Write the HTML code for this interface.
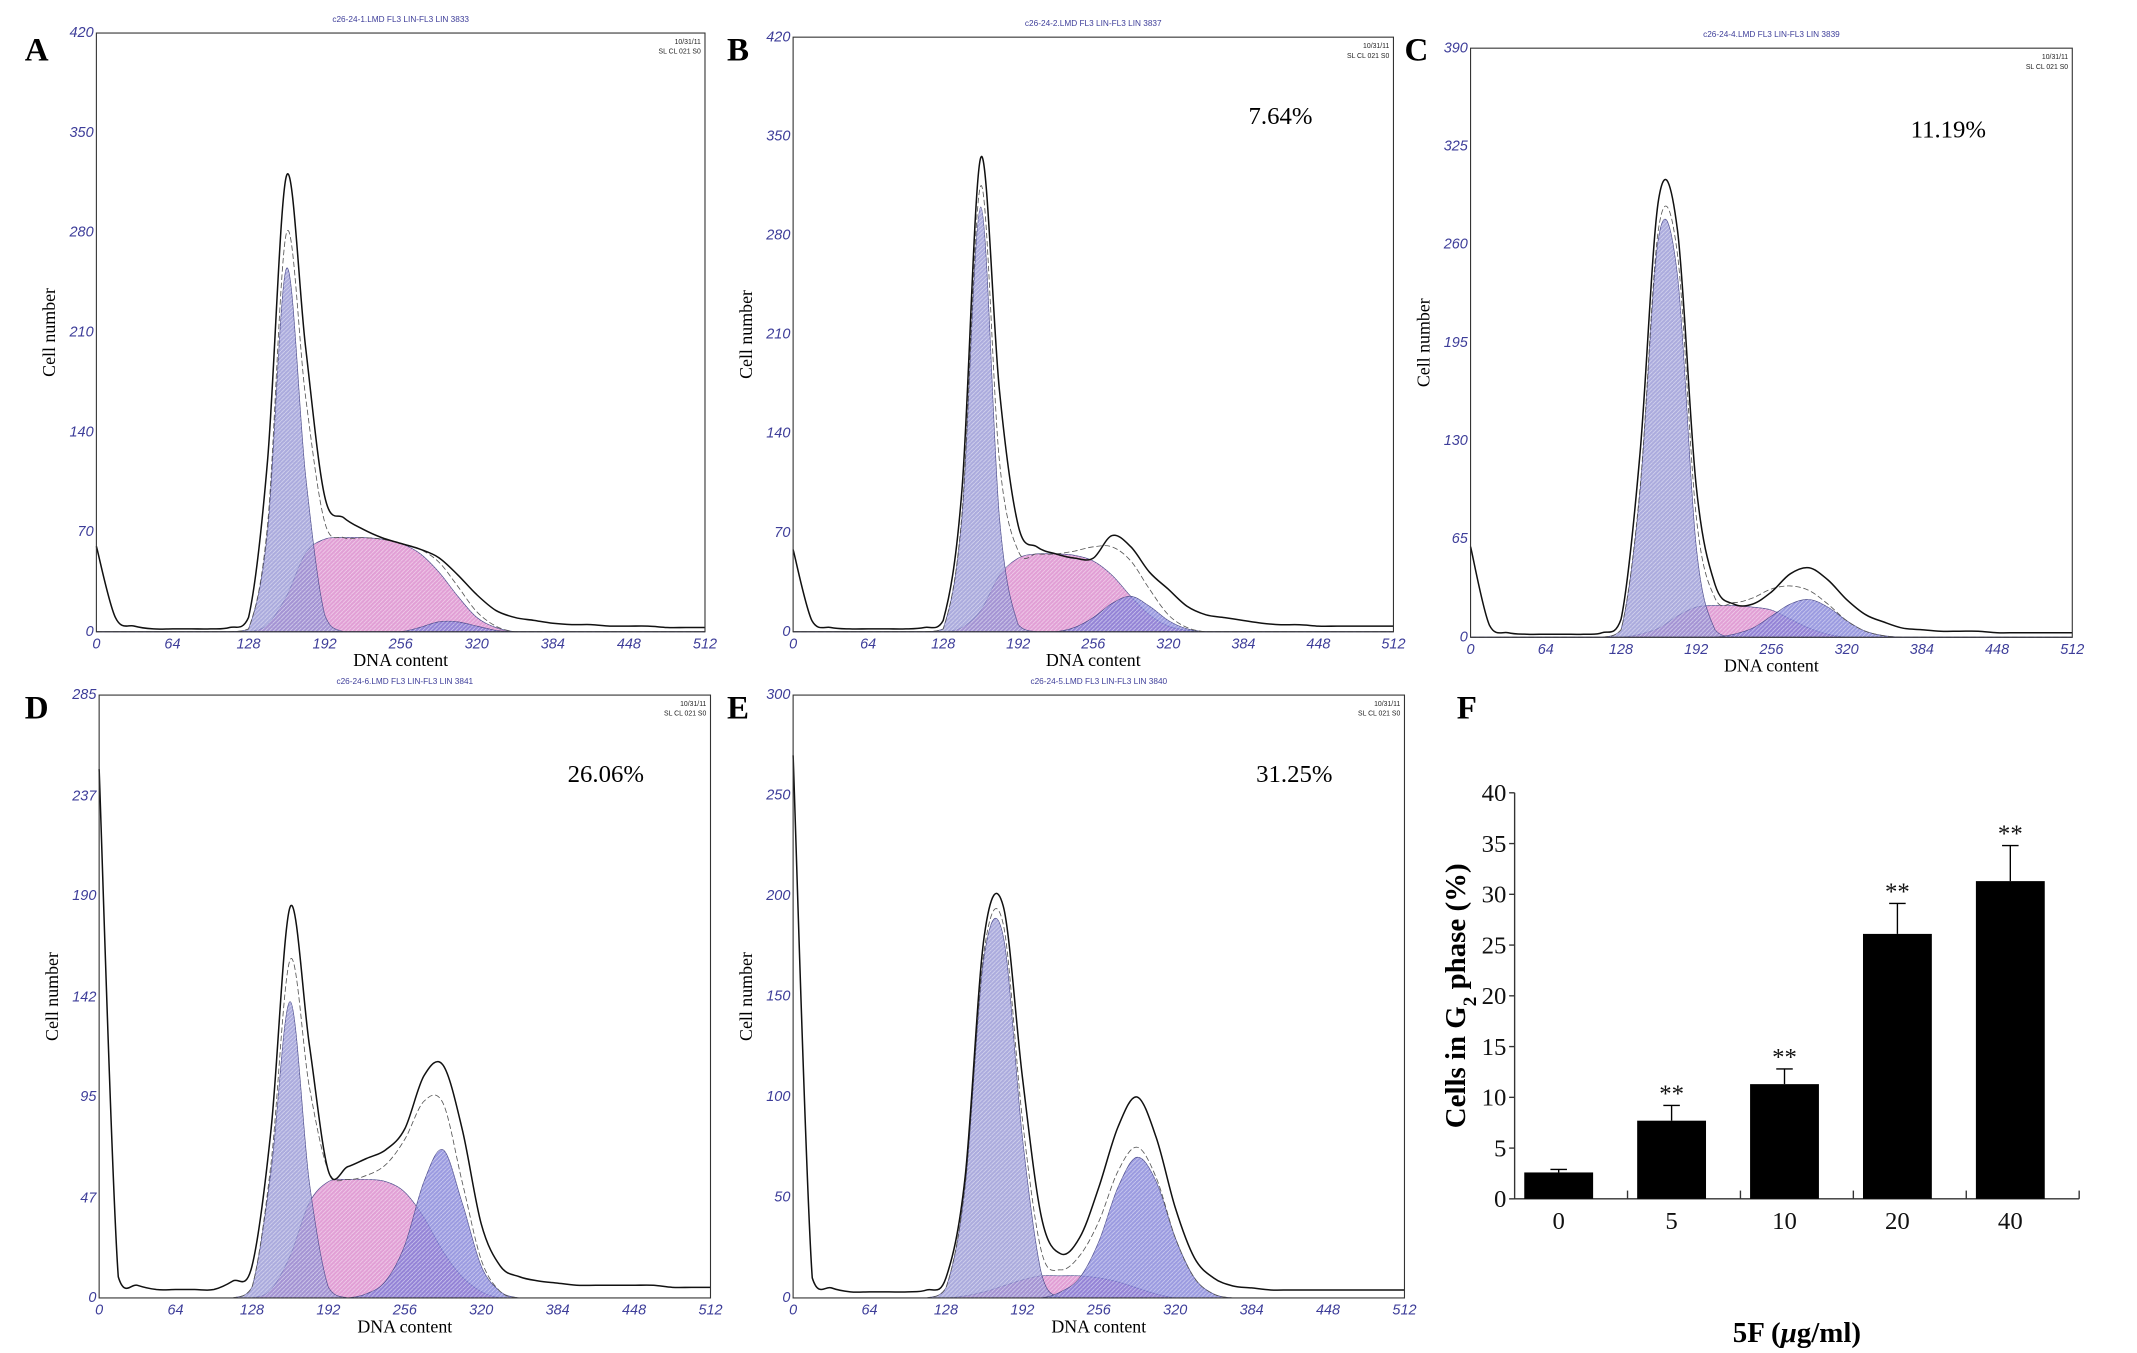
<!DOCTYPE html>
<html><head><meta charset="utf-8"><style>
html,body{margin:0;padding:0;background:#fff}
svg{display:block}
.pl{font-family:"Liberation Serif",serif;font-weight:bold;font-size:24px;fill:#000}
.yt{font-family:"Liberation Sans",sans-serif;font-style:italic;font-size:10.5px;fill:#3d3d99}
.ttl{font-family:"Liberation Sans",sans-serif;font-size:6px;fill:#3d3d99}
.ax{font-family:"Liberation Serif",serif;font-size:13px;fill:#000}
</style></head><body>
<svg id="fig" width="2137" height="1353" viewBox="0 0 1552 983" preserveAspectRatio="none" xmlns="http://www.w3.org/2000/svg">
<defs>
<pattern id="hatch" width="3" height="3" patternUnits="userSpaceOnUse"><path d="M0,3 L3,0" stroke="#ffffff" stroke-width="0.6" opacity="0.5"/></pattern>
</defs>
</svg>
<script>
// channel spacing of each histogram array: 0,16,...,512
const channels = [0,16,32,48,64,80,96,112,128,144,160,176,192,208,224,240,256,272,288,304,320,336,352,368,384,400,416,432,448,464,480,496,512];
const xTickLabels = ["0","64","128","192","256","320","384","448","512"];

const aTotal = [60,10,4,2,2,2,2,3,10,120,320,200,95,80,72,66,62,58,52,40,26,15,10,8,6,5,5,4,4,4,3,3,3];
const aG1    = [0,0,0,0,0,0,0,0,2,70,255,110,12,0,0,0,0,0,0,0,0,0,0,0,0,0,0,0,0,0,0,0,0];
const aS     = [0,0,0,0,0,0,0,0,0,5,25,55,65,66,66,65,62,55,42,25,10,3,0,0,0,0,0,0,0,0,0,0,0];
const aG2    = [0,0,0,0,0,0,0,0,0,0,0,0,0,0,0,0,0,3,7,7,4,1,0,0,0,0,0,0,0,0,0,0,0];
const aYTicks = ["0","70","140","210","280","350","420"];

const bTotal = [58,8,3,2,2,2,2,3,8,100,335,170,75,60,55,52,52,68,60,42,30,18,12,10,8,6,5,5,4,4,4,4,4];
const bG1    = [0,0,0,0,0,0,0,0,2,80,300,80,5,0,0,0,0,0,0,0,0,0,0,0,0,0,0,0,0,0,0,0,0];
const bS     = [0,0,0,0,0,0,0,0,0,3,15,40,52,55,55,54,50,40,25,12,4,1,0,0,0,0,0,0,0,0,0,0,0];
const bG2    = [0,0,0,0,0,0,0,0,0,0,0,0,0,0,0,3,10,20,25,18,8,2,0,0,0,0,0,0,0,0,0,0,0];
const bYTicks = ["0","70","140","210","280","350","420"];

const cTotal = [60,8,3,2,2,2,2,3,12,120,290,270,100,35,22,22,30,42,46,38,25,15,10,6,5,4,4,4,3,3,3,3,3];
const cG1    = [0,0,0,0,0,0,0,0,5,95,265,240,60,5,0,0,0,0,0,0,0,0,0,0,0,0,0,0,0,0,0,0,0];
const cS     = [0,0,0,0,0,0,0,0,0,2,6,14,20,21,21,20,18,12,6,2,0,0,0,0,0,0,0,0,0,0,0,0,0];
const cG2    = [0,0,0,0,0,0,0,0,0,0,0,0,0,0,2,6,14,22,25,20,11,4,1,0,0,0,0,0,0,0,0,0,0];
const cYTicks = ["0","65","130","195","260","325","390"];

const dTotal = [250,10,6,4,4,4,4,8,15,80,185,120,60,62,66,70,80,105,110,80,35,15,10,8,7,6,6,6,6,6,5,5,5];
const dG1    = [0,0,0,0,0,0,0,0,5,60,140,55,5,0,0,0,0,0,0,0,0,0,0,0,0,0,0,0,0,0,0,0,0];
const dS     = [0,0,0,0,0,0,0,0,0,4,20,45,55,56,56,55,50,38,22,10,3,0,0,0,0,0,0,0,0,0,0,0,0];
const dG2    = [0,0,0,0,0,0,0,0,0,0,0,0,0,0,2,8,25,55,70,45,15,3,0,0,0,0,0,0,0,0,0,0,0];
const dYTicks = ["0","47","95","142","190","237","285"];

const eTotal = [270,10,5,3,3,3,3,4,10,60,180,195,110,40,22,30,55,85,100,80,45,20,10,6,5,4,4,4,4,4,4,4,4];
const eG1    = [0,0,0,0,0,0,0,0,5,55,170,180,80,12,0,0,0,0,0,0,0,0,0,0,0,0,0,0,0,0,0,0,0];
const eS     = [0,0,0,0,0,0,0,0,0,1,3,6,9,11,11,11,10,8,5,2,0,0,0,0,0,0,0,0,0,0,0,0,0];
const eG2    = [0,0,0,0,0,0,0,0,0,0,0,0,0,0,3,10,28,55,70,58,30,10,2,0,0,0,0,0,0,0,0,0,0];
const eYTicks = ["0","50","100","150","200","250","300"];

// Panel F bar chart
const fCategories = ["0","5","10","20","40"];
const fValues = [2.6,7.7,11.3,26.1,31.3];
const fErrors = [0.3,1.5,1.5,3.0,3.5];
const fYTicks = [0,5,10,15,20,25,30,35,40];

const NS = "http://www.w3.org/2000/svg";
const svg = document.getElementById('fig');
function mk(tag, attrs, parent){
  const e = document.createElementNS(NS, tag);
  for (const k in attrs) e.setAttribute(k, attrs[k]);
  (parent||svg).appendChild(e);
  return e;
}
function smoothPath(pts, base){
  const cl = y => Math.min(y, base);
  let d = "M"+pts[0][0].toFixed(1)+","+pts[0][1].toFixed(1);
  for (let i=0;i<pts.length-1;i++){
    const p0=pts[Math.max(0,i-1)], p1=pts[i], p2=pts[i+1], p3=pts[Math.min(pts.length-1,i+2)];
    const c1=[p1[0]+(p2[0]-p0[0])/6, cl(p1[1]+(p2[1]-p0[1])/6)];
    const c2=[p2[0]-(p3[0]-p1[0])/6, cl(p2[1]-(p3[1]-p1[1])/6)];
    d+=" C"+c1[0].toFixed(1)+","+c1[1].toFixed(1)+" "+c2[0].toFixed(1)+","+c2[1].toFixed(1)+" "+p2[0].toFixed(1)+","+p2[1].toFixed(1);
  }
  return d;
}
function drawPanel(cfg){
  const g = mk('g', {});
  
  
  const ymax = parseFloat(cfg.yTicks[cfg.yTicks.length-1]);
  const X = c => cfg.l + c/512*(cfg.r-cfg.l);
  const Y = v => cfg.b - Math.min(v,ymax)/ymax*(cfg.b-cfg.t);
  const comps = [[cfg.s,'#d77fc7','s-phase-fill'],[cfg.g1,'#8f8fd2','g1-fill'],[cfg.g2,'#7a7ad6','g2-fill']];
  comps.forEach(([arr,col,nm])=>{
    const pts = channels.map((c,i)=>[X(c),Y(arr[i])]);
    const d = smoothPath(pts,cfg.b)+" L"+X(512)+","+cfg.b+" L"+X(0)+","+cfg.b+" Z";
    const p = mk('path',{d:d,fill:col,'fill-opacity':0.75,stroke:'#4a4a8a','stroke-width':0.5},g);
    
    
    const h = mk('path',{d:d,fill:'url(#hatch)'},g);
    
    
  });
  const fit = channels.map((c,i)=>[X(c),Y(cfg.g1[i]+cfg.s[i]+cfg.g2[i])]);
  const fp = mk('path',{d:smoothPath(fit,cfg.b),fill:'none',stroke:'#555','stroke-width':0.6,'stroke-dasharray':'4,2'},g);
  
  
  const tot = channels.map((c,i)=>[X(c),Y(cfg.total[i])]);
  const tp = mk('path',{d:smoothPath(tot,cfg.b),fill:'none',stroke:'#111','stroke-width':1.1},g);
  
  
  const bx = mk('rect',{x:cfg.l,y:cfg.t,width:cfg.r-cfg.l,height:cfg.b-cfg.t,fill:'none',stroke:'#333','stroke-width':0.8},g);
  
  
  cfg.yTicks.forEach(lbl=>{
    const y = Y(parseFloat(lbl));
    const t = mk('text',{x:cfg.l-2,y:y+3,'text-anchor':'end',class:'yt'},g);
    t.textContent = lbl;
    
    
  });
  xTickLabels.forEach(lbl=>{
    const x = X(parseFloat(lbl));
    const t = mk('text',{x:x,y:cfg.b+12,'text-anchor':'middle',class:'yt'},g);
    t.textContent = lbl;
    
    
  });
  const xt = mk('text',{x:(cfg.l+cfg.r)/2,y:cfg.b+25,'text-anchor':'middle',class:'ax'},g);
  xt.textContent = 'DNA content';
  
  
  const yt = mk('text',{x:0,y:0,'text-anchor':'middle',class:'ax',transform:'translate('+(cfg.l-30)+','+((cfg.t+cfg.b)/2)+') rotate(-90)'},g);
  yt.textContent = 'Cell number';
  
  
  const ti = mk('text',{x:(cfg.l+cfg.r)/2,y:cfg.t-8,'text-anchor':'middle',class:'ttl'},g);
  ti.textContent = cfg.title;
  
  
  const d1 = mk('text',{x:cfg.r-3,y:cfg.t+8,'text-anchor':'end',style:'font-family:Liberation Sans,sans-serif;font-size:5px;fill:#222'},g);
  d1.textContent = '10/31/11';
  
  
  const d2 = mk('text',{x:cfg.r-3,y:cfg.t+15,'text-anchor':'end',style:'font-family:Liberation Sans,sans-serif;font-size:5px;fill:#222'},g);
  d2.textContent = 'SL CL 021 S0';
  
  
  const pl = mk('text',{x:cfg.lx,y:cfg.ly,class:'pl'},g);
  pl.textContent = cfg.id;
  
  
  if (cfg.pct){
    const pc = mk('text',{x:cfg.px,y:cfg.py,'text-anchor':'middle',style:'font-family:Liberation Serif,serif;font-size:18px;fill:#000'},g);
    pc.textContent = cfg.pct;
    
    
  }
}
drawPanel({id:'A',l:70,t:24,r:512,b:459,total:aTotal,g1:aG1,s:aS,g2:aG2,yTicks:aYTicks,title:'c26-24-1.LMD FL3 LIN-FL3 LIN 3833',lx:18,ly:44});
drawPanel({id:'B',l:576,t:27,r:1012,b:459,total:bTotal,g1:bG1,s:bS,g2:bG2,yTicks:bYTicks,title:'c26-24-2.LMD FL3 LIN-FL3 LIN 3837',lx:528,ly:44,pct:'7.64%',px:930,py:90});
drawPanel({id:'C',l:1068,t:35,r:1505,b:463,total:cTotal,g1:cG1,s:cS,g2:cG2,yTicks:cYTicks,title:'c26-24-4.LMD FL3 LIN-FL3 LIN 3839',lx:1020,ly:44,pct:'11.19%',px:1415,py:100});
drawPanel({id:'D',l:72,t:505,r:516,b:943,total:dTotal,g1:dG1,s:dS,g2:dG2,yTicks:dYTicks,title:'c26-24-6.LMD FL3 LIN-FL3 LIN 3841',lx:18,ly:522,pct:'26.06%',px:440,py:568});
drawPanel({id:'E',l:576,t:505,r:1020,b:943,total:eTotal,g1:eG1,s:eS,g2:eG2,yTicks:eYTicks,title:'c26-24-5.LMD FL3 LIN-FL3 LIN 3840',lx:528,ly:522,pct:'31.25%',px:940,py:568});

(function(){
  const g = mk('g',{});
  
  
  const L=1100, R=1510, T=576, B=871;
  const Y = v => B - v/40*(B-T);
  const step = (R-L)/fCategories.length;
  const X = i => L + step*(i+0.5) - 9;
  const ax = mk('path',{d:`M${L},${T} L${L},${B} L${R},${B}`,fill:'none',stroke:'#333','stroke-width':1},g);
  
  
  fYTicks.forEach(v=>{
    const tk = mk('line',{x1:L-4,x2:L,y1:Y(v),y2:Y(v),stroke:'#333','stroke-width':1},g);
    
    
    const t = mk('text',{x:L-6,y:Y(v)+6,'text-anchor':'end',style:'font-family:Liberation Serif,serif;font-size:18px;fill:#111'},g);
    t.textContent = v;
    
    
  });
  for (let i=1;i<=fCategories.length;i++){
    const tk = mk('line',{x1:L+step*i,x2:L+step*i,y1:B-6,y2:B,stroke:'#333','stroke-width':1},g);
    
    
  }
  fValues.forEach((v,i)=>{
    const cx = X(i), w = 50;
    const e = mk('line',{x1:cx,x2:cx,y1:Y(v),y2:Y(v+fErrors[i]),stroke:'#000','stroke-width':1},g);
    
    
    const c = mk('line',{x1:cx-6,x2:cx+6,y1:Y(v+fErrors[i]),y2:Y(v+fErrors[i]),stroke:'#000','stroke-width':1},g);
    
    
    const r = mk('rect',{x:cx-w/2,y:Y(v),width:w,height:B-Y(v),fill:'#000'},g);
    
    
    const t = mk('text',{x:cx,y:B+22,'text-anchor':'middle',style:'font-family:Liberation Serif,serif;font-size:18px;fill:#111'},g);
    t.textContent = fCategories[i];
    
    
    if (i>0){
      const s = mk('text',{x:cx,y:Y(v+fErrors[i])-3,'text-anchor':'middle',style:'font-family:Liberation Serif,serif;font-size:18px;fill:#111'},g);
      s.textContent = '**';
      
      
    }
  });
  const yt = mk('text',{x:0,y:0,'text-anchor':'middle',transform:`translate(1064,${(T+B)/2}) rotate(-90)`,style:'font-family:Liberation Serif,serif;font-size:21px;font-weight:bold;fill:#000'},g);
  yt.innerHTML = 'Cells in G<tspan baseline-shift="sub" font-size="14">2</tspan> phase (%)';
  
  
  const xt = mk('text',{x:1305,y:975,'text-anchor':'middle',style:'font-family:Liberation Serif,serif;font-size:21px;font-weight:bold;fill:#000'},g);
  xt.innerHTML = '5F (<tspan font-style="italic">μ</tspan>g/ml)';
  
  
  const pl = mk('text',{x:1058,y:522,class:'pl'},g);
  pl.textContent = 'F';
  
  
})();
</script>
</body></html>
